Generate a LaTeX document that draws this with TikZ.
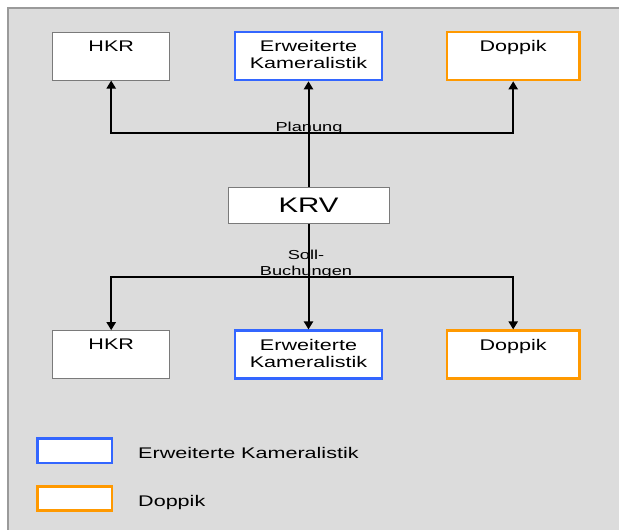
\documentclass[tikz,border=0pt]{standalone}
\usepackage{fontspec}
\setmainfont{Liberation Sans}[FakeStretch=1.4]
\usetikzlibrary{arrows.meta}

\definecolor{bggray}{HTML}{DCDCDC}
\definecolor{framegray}{HTML}{9A9A9A}
\definecolor{boxgray}{HTML}{7A7A7A}
\definecolor{kamblue}{HTML}{3366FF}
\definecolor{dopporange}{HTML}{FF9900}

\tikzset{
  sysbox/.style={draw=#1, fill=white, inner sep=0pt, minimum height=48pt},
  boxtext/.style={font=\fontsize{15.4}{17}\selectfont, align=center, inner sep=0pt},
  smalltext/.style={font=\fontsize{13}{16}\selectfont, align=center, inner sep=0pt},
  flow/.style={-{Triangle[length=8pt,width=9pt]}, line width=2pt},
}

\begin{document}
\begin{tikzpicture}[x=1pt, y=-1pt]
    \useasboundingbox (0,0) rectangle (619,530);

    % Background
    \fill[bggray] (8,8) rectangle (619,530);
    \draw[framegray, line width=2pt] (8,530) -- (8,8) -- (619,8);

    % Planung targets
    \node[sysbox=boxgray, line width=1pt, minimum width=117.5pt,
          label={[boxtext, anchor=north, yshift=-9pt]north:HKR}] (hkrtop) at (111.2,56) {};
    \node[sysbox=kamblue, line width=2.5pt, minimum width=147pt,
          label={[boxtext, anchor=north, yshift=-9.5pt]north:Erweiterte\\Kameralistik}] (erwtop) at (308.5,56) {};
    \node[sysbox=dopporange, line width=2.5pt, minimum width=132.5pt,
          label={[boxtext, anchor=north, yshift=-9.5pt]north:Doppik}] (doptop) at (513.2,56) {};

    % KRV
    \node[sysbox=boxgray, line width=1pt, minimum width=161pt, minimum height=36pt,
          font=\fontsize{21}{24}\selectfont] (krv) at (308.5,205.3) {KRV};

    % Soll-Buchungen targets
    \node[sysbox=boxgray, line width=1pt, minimum width=117.5pt,
          label={[boxtext, anchor=north, yshift=-9pt]north:HKR}] (hkrbot) at (111.2,354.7) {};
    \node[sysbox=kamblue, line width=2.5pt, minimum width=147pt,
          label={[boxtext, anchor=north, yshift=-9.5pt]north:Erweiterte\\Kameralistik}] (erwbot) at (308.5,354.7) {};
    \node[sysbox=dopporange, line width=2.5pt, minimum width=132.5pt,
          label={[boxtext, anchor=north, yshift=-9.5pt]north:Doppik}] (dopbot) at (513.2,354.7) {};

    % Labels
    \node[smalltext, anchor=base] (planung) at (309,131) {Planung};
    \node[smalltext, anchor=north] (soll) at (306,249.5) {Soll-\\Buchungen};

    % Arrows
    \coordinate (planjoin) at (308.5,133.3);
    \coordinate (solljoin) at (308.5,277);
    \draw[flow] (krv) -- (erwtop);
    \draw[flow] (planjoin) -| (hkrtop);
    \draw[flow] (planjoin) -| (doptop);
    \draw[flow] (krv) -- (erwbot);
    \draw[flow] (solljoin) -| (hkrbot);
    \draw[flow] (solljoin) -| (dopbot);

    % Legend
    \node[sysbox=kamblue, line width=2.5pt, minimum width=74.5pt, minimum height=24.3pt] (legkam) at (74.7,450.8) {};
    \node[sysbox=dopporange, line width=2.5pt, minimum width=74.5pt, minimum height=24pt] (legdop) at (74.7,498.7) {};
    \node[boxtext, anchor=base west] (legkamtext) at (138,458.3) {Erweiterte Kameralistik};
    \node[boxtext, anchor=base west] (legdoptext) at (138,506) {Doppik};
\end{tikzpicture}
\end{document}
